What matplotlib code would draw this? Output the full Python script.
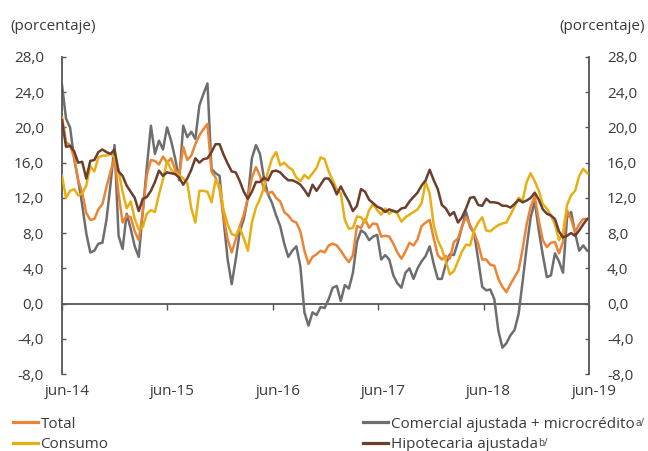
import matplotlib
matplotlib.use("Agg")
import matplotlib.pyplot as plt
import matplotlib.dates as mdates
import matplotlib.ticker as mticker
from matplotlib.transforms import ScaledTranslation
from matplotlib.lines import Line2D
import pandas as pd

plt.rcParams['font.family'] = ['Open Sans', 'DejaVu Sans']

# ---- data (fortnightly observations from jun-14) ----
start_date = "2014-06-01"
step = "14D"

total = [21.2, 18.3, 18.0, 16.6, 14.0, 12.6, 10.3, 9.5, 9.6, 10.7,
         11.3, 13.2, 15.0, 16.5, 12.5, 9.2, 10.0, 9.8, 8.2, 7.2,
         10.5, 14.6, 16.3, 16.2, 15.8, 16.7, 16.0, 16.5, 15.2, 14.6,
         17.8, 16.3, 16.8, 18.1, 19.1, 19.8, 20.4, 15.0, 14.3, 13.0,
         9.8, 7.3, 5.8, 7.3, 8.8, 10.1, 12.0, 14.3, 15.5, 14.5,
         13.0, 12.5, 12.7, 12.0, 11.6, 10.4, 10.0, 9.4, 9.2, 8.2,
         6.0, 4.5, 5.3, 5.6, 6.0, 5.8, 6.6, 6.8, 6.6, 6.0,
         5.3, 4.7, 5.5, 8.8, 8.6, 9.6, 8.6, 9.1, 9.0, 7.6,
         7.7, 7.6, 6.8, 5.8, 5.1, 5.9, 6.9, 6.6, 7.3, 8.8,
         9.2, 9.5, 7.4, 5.5, 5.0, 5.4, 5.1, 7.0, 7.4, 8.8,
         9.8, 8.9, 8.0, 6.8, 5.0, 5.0, 4.4, 4.3, 2.8, 1.9,
         1.3, 2.2, 3.0, 3.8, 6.2, 9.0, 11.0, 12.2, 9.4, 7.2,
         6.4, 6.9, 7.0, 5.7, 7.0, 10.6, 9.6, 8.1, 9.0, 9.6,
         9.6]

consumo = [14.5, 12.0, 12.8, 13.0, 12.3, 12.5, 13.4, 15.6, 15.0, 16.6,
           16.8, 16.8, 17.0, 16.6, 15.1, 12.7, 10.8, 11.6, 9.6, 8.4,
           8.7, 10.2, 10.6, 10.4, 12.4, 14.1, 16.2, 15.2, 14.8, 14.6,
           14.2, 13.7, 10.8, 9.2, 12.8, 12.8, 12.7, 11.5, 14.0, 13.4,
           10.6, 9.0, 7.9, 7.7, 8.6, 7.4, 6.0, 9.2, 10.9, 11.9,
           13.2, 15.0, 16.5, 17.2, 15.7, 16.0, 15.5, 15.2, 14.3, 13.9,
           14.6, 14.2, 14.8, 15.4, 16.6, 16.4, 15.0, 14.0, 13.0, 12.5,
           9.5, 8.5, 8.6, 9.9, 9.8, 9.2, 10.6, 11.3, 10.6, 10.1,
           10.8, 10.2, 10.6, 10.2, 9.3, 9.8, 10.1, 10.4, 10.7, 11.4,
           13.8, 12.5, 8.9, 7.2, 6.2, 4.8, 3.3, 3.7, 4.8, 5.9,
           6.7, 6.6, 8.3, 9.2, 9.8, 8.3, 8.2, 8.6, 8.9, 9.1,
           9.2, 10.1, 11.0, 12.0, 11.7, 13.8, 14.8, 13.9, 12.8, 11.3,
           10.8, 10.0, 9.0, 7.2, 8.0, 11.2, 12.3, 12.8, 14.5, 15.3,
           14.8]

comercial = [24.8, 21.0, 20.0, 16.5, 14.0, 11.2, 8.0, 5.8, 6.0, 6.8,
             6.9, 9.5, 13.5, 18.0, 7.7, 6.2, 10.2, 8.5, 6.5, 5.3,
             10.5, 15.5, 20.2, 17.0, 18.5, 17.5, 20.0, 18.5, 16.5, 14.0,
             20.2, 18.9, 19.5, 18.7, 22.5, 23.8, 25.0, 15.3, 14.8, 14.5,
             9.5, 5.0, 2.2, 5.0, 8.2, 9.6, 12.0, 16.5, 18.0, 17.0,
             14.2, 12.4, 11.4, 10.0, 8.8, 6.8, 5.3, 6.0, 6.5, 4.2,
             -1.0, -2.5, -1.0, -1.3, -0.4, -0.5, 0.5, 1.8, 2.0, 0.3,
             2.1, 1.7, 3.5, 7.0, 8.3, 8.0, 7.2, 7.6, 7.8, 5.0,
             5.5, 5.0, 3.2, 2.3, 1.8, 3.5, 4.0, 2.8, 4.0, 4.8,
             5.4, 6.5, 4.5, 2.8, 2.8, 4.5, 5.6, 5.5, 7.0, 8.7,
             10.4, 8.7, 8.0, 5.0, 1.9, 1.5, 1.6, 0.5, -3.1, -5.0,
             -4.5, -3.6, -3.0, -1.2, 2.5, 6.4, 9.8, 11.6, 8.3, 5.5,
             3.0, 3.2, 5.7, 4.8, 3.5, 9.8, 10.4, 8.0, 6.0, 6.6,
             6.0]

hipotecaria = [20.8, 17.8, 17.9, 17.3, 16.0, 16.1, 14.2, 16.2, 16.3, 17.2,
               17.5, 17.2, 17.0, 17.5, 15.0, 14.5, 13.4, 12.7, 12.0, 10.5,
               11.9, 12.1, 12.8, 13.8, 15.1, 14.5, 14.9, 14.8, 14.7, 14.3,
               13.5, 14.2, 15.2, 16.5, 16.0, 16.4, 16.5, 17.2, 18.1, 18.1,
               16.9, 15.9, 15.0, 14.9, 13.9, 12.7, 11.9, 12.7, 13.8, 13.8,
               14.3, 14.0, 15.0, 15.1, 14.9, 14.4, 14.0, 14.0, 13.8, 13.5,
               12.9, 12.2, 13.5, 12.8, 13.5, 14.2, 14.2, 13.5, 12.4, 13.3,
               12.4, 11.6, 10.5, 11.1, 13.0, 12.7, 11.8, 11.4, 11.0, 10.8,
               10.4, 10.7, 10.5, 10.4, 10.8, 10.9, 11.6, 12.1, 12.6, 13.4,
               14.0, 15.2, 14.0, 13.0, 11.2, 10.8, 10.0, 10.4, 9.2, 9.8,
               10.8, 12.0, 12.1, 11.2, 11.1, 11.9, 11.5, 11.5, 11.4, 11.1,
               11.1, 10.9, 11.3, 11.8, 11.5, 11.7, 12.0, 12.6, 11.8, 10.7,
               10.2, 10.0, 9.6, 8.2, 7.5, 7.7, 8.0, 7.7, 8.3, 9.0,
               9.6]

series_labels = ["Total", "Consumo",
                 "Comercial ajustada + microcrédito",
                 "Hipotecaria ajustada"]
series_notes = ["", "", "a/", "b/"]
x_ticks = ["2014-06-01", "2015-06-01", "2016-06-01", "2017-06-01",
           "2018-06-01", "2019-06-01"]
x_tick_labels = ["jun-14", "jun-15", "jun-16", "jun-17", "jun-18", "jun-19"]
y_ticks = [-8, -4, 0, 4, 8, 12, 16, 20, 24, 28]

dates = pd.date_range(start_date, periods=len(total), freq=step)

C_TOTAL = "#EC8435"
C_CONS = "#E8AF14"
C_COM = "#6E6E70"
C_HIP = "#6B3E2D"
TXT = "#3A3A3A"
AX = "#555555"
FS = 11

W, H = 648, 451
fig = plt.figure(figsize=(W/100, H/100), dpi=100)
ax = fig.add_axes([62/W, 1-374/H, (589-62)/W, (374-57)/H])

lw = 1.8
ax.plot(dates, total, color=C_TOTAL, lw=lw, zorder=3)
ax.plot(dates, consumo, color=C_CONS, lw=lw, zorder=4)
ax.plot(dates, comercial, color=C_COM, lw=lw, zorder=2)
ax.plot(dates, hipotecaria, color=C_HIP, lw=lw, zorder=5)

ax.set_xlim(pd.Timestamp(x_ticks[0]), pd.Timestamp(x_ticks[-1]))
ax.set_ylim(y_ticks[0], y_ticks[-1])

for s in ["top", "bottom"]:
    ax.spines[s].set_visible(False)
for s in ["left", "right"]:
    ax.spines[s].set_color(AX)
    ax.spines[s].set_linewidth(1.3)

ax.set_yticks(y_ticks)
ax.yaxis.set_major_formatter(mticker.FuncFormatter(lambda v, p: f"{v:.1f}".replace(".", ",")))
ax.tick_params(axis="y", which="both", direction="in", length=3, width=1.0, color=AX,
               left=True, right=True, labelleft=True, labelright=True,
               labelsize=FS, labelcolor=TXT, pad=13)

tick_nums = [mdates.date2num(pd.Timestamp(t)) for t in x_ticks]
ax.set_xticks(tick_nums)
ax.set_xticklabels(x_tick_labels)
ax.tick_params(axis="x", length=0, labelsize=FS, labelcolor=TXT, pad=7)
off = ScaledTranslation(5/100, 0, fig.dpi_scale_trans)
for lab in ax.get_xticklabels():
    lab.set_transform(lab.get_transform() + off)

# zero line with year ticks
zero_loc = (0 - y_ticks[0]) / (y_ticks[-1] - y_ticks[0])
sec = ax.secondary_xaxis(zero_loc)
sec.set_xticks(tick_nums)
sec.tick_params(axis="x", direction="out", length=4, width=1.0, color=AX, labelbottom=False,
                labeltop=False)
sec.spines["bottom"].set_color(AX)
sec.spines["bottom"].set_linewidth(1.3)

fig.text(10/W, 1-27/H, "(porcentaje)", fontsize=FS, color=TXT, ha="left", va="center")
fig.text(645/W, 1-27/H, "(porcentaje)", fontsize=FS, color=TXT, ha="right", va="center")

colors = [C_TOTAL, C_CONS, C_COM, C_HIP]
anchors = [(13, 424), (13, 445), (363, 424), (363, 445)]
legs = []
for c, lab, (lx, ly) in zip(colors, series_labels, anchors):
    leg = fig.legend([Line2D([], [], color=c, lw=2.3)], [lab], frameon=False, fontsize=FS,
                     handlelength=1.65, handletextpad=0.15, borderpad=0, borderaxespad=0,
                     labelcolor=TXT, loc="center left", bbox_to_anchor=(lx/W, 1-ly/H))
    legs.append(leg)

fig.canvas.draw()
for leg, note in zip(legs, series_notes):
    if note:
        bb = leg.get_texts()[0].get_window_extent()
        fig.text((bb.x1 + 1)/W, (bb.y1 - 1)/H, note, fontsize=7, color=TXT,
                 ha="left", va="top")

fig.savefig("out.png", dpi=100)
